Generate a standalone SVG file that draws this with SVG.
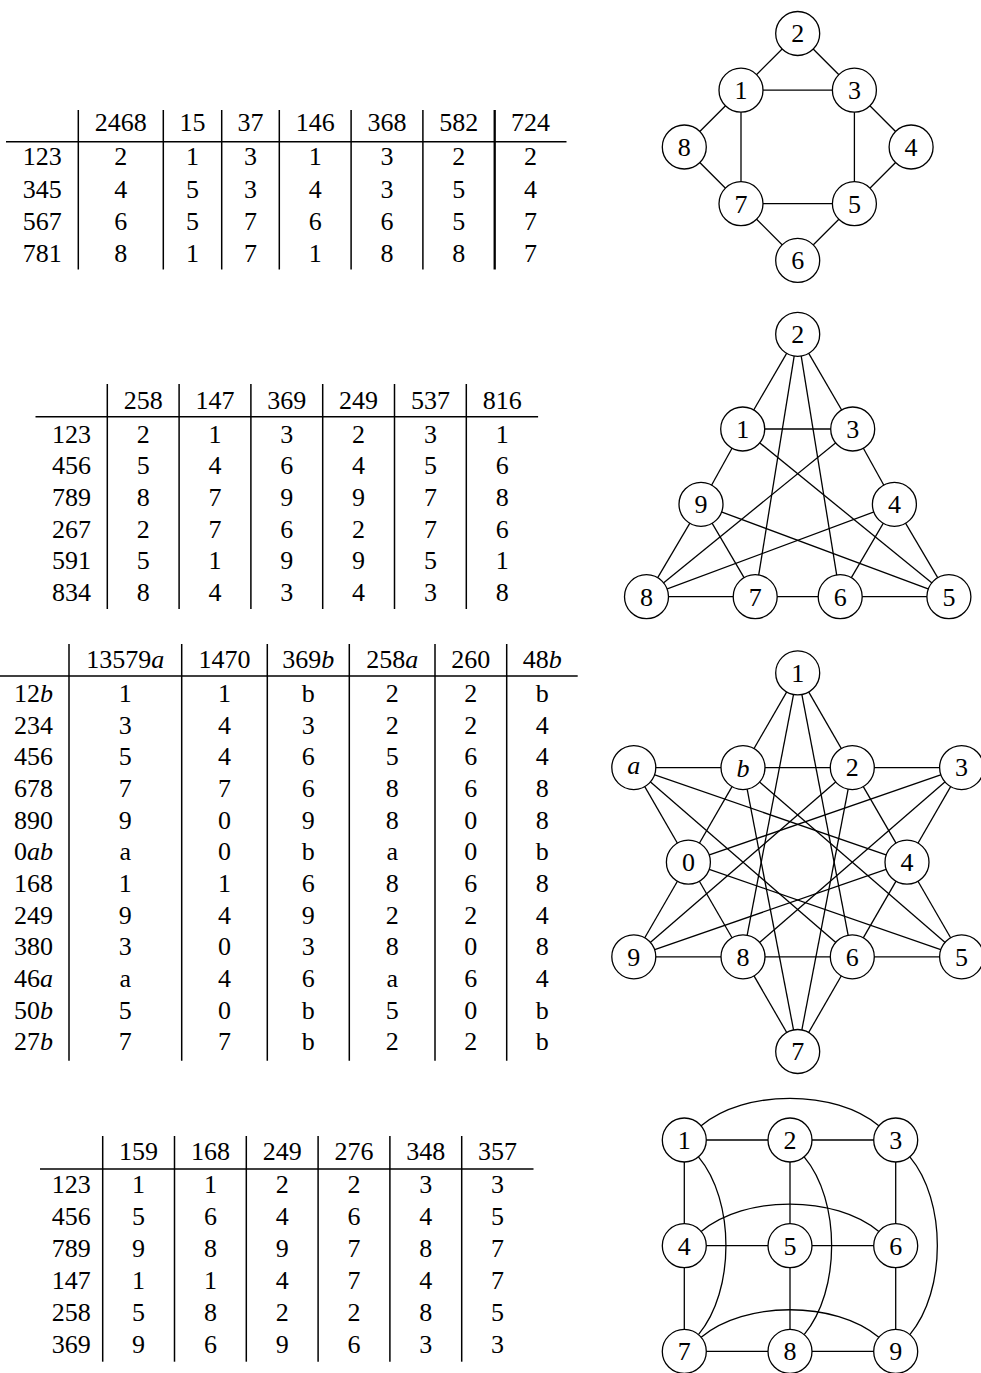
<svg xmlns="http://www.w3.org/2000/svg" width="981" height="1373" viewBox="0 0 981 1373">
<style>
.t{font-family:'Liberation Serif',serif;font-size:26px;fill:#000;text-anchor:middle}
.n{font-family:'Liberation Serif',serif;font-size:26px;fill:#000;text-anchor:middle}
.i{font-style:italic}
.v{stroke:#000;stroke-width:1.5}
.vb{stroke:#000;stroke-width:2.3}
.h{stroke:#000;stroke-width:1.4}
.e{stroke:#000;stroke-width:1.3;fill:none}
.c{stroke:#000;stroke-width:1.3;fill:#fff}
</style>
<rect width="981" height="1373" fill="#fff"/>

<!-- TABLE 1 -->
<g id="table1">
<line class="v" x1="78.3" y1="110" x2="78.3" y2="269.5"/>
<line class="v" x1="163.3" y1="110" x2="163.3" y2="269.5"/>
<line class="v" x1="221.7" y1="110" x2="221.7" y2="269.5"/>
<line class="v" x1="279.3" y1="110" x2="279.3" y2="269.5"/>
<line class="v" x1="351.1" y1="110" x2="351.1" y2="269.5"/>
<line class="v" x1="422.9" y1="110" x2="422.9" y2="269.5"/>
<line class="vb" x1="494.7" y1="110" x2="494.7" y2="269.5"/>
<line class="h" x1="6" y1="141.7" x2="566.5" y2="141.7"/>
<text class="t" y="131.4"><tspan x="120.8">2468</tspan><tspan x="192.5">15</tspan><tspan x="250.5">37</tspan><tspan x="315.2">146</tspan><tspan x="387">368</tspan><tspan x="458.8">582</tspan><tspan x="530.6">724</tspan></text>
<text class="t" y="165.4"><tspan x="42.2">123</tspan><tspan x="120.8">2</tspan><tspan x="192.5">1</tspan><tspan x="250.5">3</tspan><tspan x="315.2">1</tspan><tspan x="387">3</tspan><tspan x="458.8">2</tspan><tspan x="530.6">2</tspan></text>
<text class="t" y="197.6"><tspan x="42.2">345</tspan><tspan x="120.8">4</tspan><tspan x="192.5">5</tspan><tspan x="250.5">3</tspan><tspan x="315.2">4</tspan><tspan x="387">3</tspan><tspan x="458.8">5</tspan><tspan x="530.6">4</tspan></text>
<text class="t" y="229.8"><tspan x="42.2">567</tspan><tspan x="120.8">6</tspan><tspan x="192.5">5</tspan><tspan x="250.5">7</tspan><tspan x="315.2">6</tspan><tspan x="387">6</tspan><tspan x="458.8">5</tspan><tspan x="530.6">7</tspan></text>
<text class="t" y="262"><tspan x="42.2">781</tspan><tspan x="120.8">8</tspan><tspan x="192.5">1</tspan><tspan x="250.5">7</tspan><tspan x="315.2">1</tspan><tspan x="387">8</tspan><tspan x="458.8">8</tspan><tspan x="530.6">7</tspan></text>
</g>

<!-- TABLE 2 -->
<g id="table2">
<line class="v" x1="107.3" y1="384" x2="107.3" y2="609"/>
<line class="v" x1="179.1" y1="384" x2="179.1" y2="609"/>
<line class="v" x1="250.9" y1="384" x2="250.9" y2="609"/>
<line class="v" x1="322.7" y1="384" x2="322.7" y2="609"/>
<line class="v" x1="394.5" y1="384" x2="394.5" y2="609"/>
<line class="v" x1="466.3" y1="384" x2="466.3" y2="609"/>
<line class="h" x1="35.5" y1="416.7" x2="538.1" y2="416.7"/>
<text class="t" y="408.7"><tspan x="143.2">258</tspan><tspan x="215">147</tspan><tspan x="286.8">369</tspan><tspan x="358.6">249</tspan><tspan x="430.4">537</tspan><tspan x="502.2">816</tspan></text>
<text class="t" y="442.7"><tspan x="71.4">123</tspan><tspan x="143.2">2</tspan><tspan x="215">1</tspan><tspan x="286.8">3</tspan><tspan x="358.6">2</tspan><tspan x="430.4">3</tspan><tspan x="502.2">1</tspan></text>
<text class="t" y="474.3"><tspan x="71.4">456</tspan><tspan x="143.2">5</tspan><tspan x="215">4</tspan><tspan x="286.8">6</tspan><tspan x="358.6">4</tspan><tspan x="430.4">5</tspan><tspan x="502.2">6</tspan></text>
<text class="t" y="505.9"><tspan x="71.4">789</tspan><tspan x="143.2">8</tspan><tspan x="215">7</tspan><tspan x="286.8">9</tspan><tspan x="358.6">9</tspan><tspan x="430.4">7</tspan><tspan x="502.2">8</tspan></text>
<text class="t" y="537.5"><tspan x="71.4">267</tspan><tspan x="143.2">2</tspan><tspan x="215">7</tspan><tspan x="286.8">6</tspan><tspan x="358.6">2</tspan><tspan x="430.4">7</tspan><tspan x="502.2">6</tspan></text>
<text class="t" y="569.1"><tspan x="71.4">591</tspan><tspan x="143.2">5</tspan><tspan x="215">1</tspan><tspan x="286.8">9</tspan><tspan x="358.6">9</tspan><tspan x="430.4">5</tspan><tspan x="502.2">1</tspan></text>
<text class="t" y="600.7"><tspan x="71.4">834</tspan><tspan x="143.2">8</tspan><tspan x="215">4</tspan><tspan x="286.8">3</tspan><tspan x="358.6">4</tspan><tspan x="430.4">3</tspan><tspan x="502.2">8</tspan></text>
</g>

<!-- TABLE 3 -->
<g id="table3">
<line class="v" x1="69" y1="644" x2="69" y2="1060.7"/>
<line class="v" x1="181.7" y1="644" x2="181.7" y2="1060.7"/>
<line class="v" x1="267.3" y1="644" x2="267.3" y2="1060.7"/>
<line class="v" x1="349.3" y1="644" x2="349.3" y2="1060.7"/>
<line class="v" x1="435" y1="644" x2="435" y2="1060.7"/>
<line class="v" x1="506.7" y1="644" x2="506.7" y2="1060.7"/>
<line class="h" x1="0" y1="676" x2="577.7" y2="676"/>
<text class="t" y="668"><tspan x="125.3">13579<tspan class="i">a</tspan></tspan><tspan x="224.5">1470</tspan><tspan x="308.3">369<tspan class="i">b</tspan></tspan><tspan x="392.2">258<tspan class="i">a</tspan></tspan><tspan x="470.8">260</tspan><tspan x="542.2">48<tspan class="i">b</tspan></tspan></text>
<text class="t" y="702"><tspan x="33.5">12<tspan class="i">b</tspan></tspan><tspan x="125.3">1</tspan><tspan x="224.5">1</tspan><tspan x="308.3">b</tspan><tspan x="392.2">2</tspan><tspan x="470.8">2</tspan><tspan x="542.2">b</tspan></text>
<text class="t" y="733.7"><tspan x="33.5">234</tspan><tspan x="125.3">3</tspan><tspan x="224.5">4</tspan><tspan x="308.3">3</tspan><tspan x="392.2">2</tspan><tspan x="470.8">2</tspan><tspan x="542.2">4</tspan></text>
<text class="t" y="765.3"><tspan x="33.5">456</tspan><tspan x="125.3">5</tspan><tspan x="224.5">4</tspan><tspan x="308.3">6</tspan><tspan x="392.2">5</tspan><tspan x="470.8">6</tspan><tspan x="542.2">4</tspan></text>
<text class="t" y="797"><tspan x="33.5">678</tspan><tspan x="125.3">7</tspan><tspan x="224.5">7</tspan><tspan x="308.3">6</tspan><tspan x="392.2">8</tspan><tspan x="470.8">6</tspan><tspan x="542.2">8</tspan></text>
<text class="t" y="828.7"><tspan x="33.5">890</tspan><tspan x="125.3">9</tspan><tspan x="224.5">0</tspan><tspan x="308.3">9</tspan><tspan x="392.2">8</tspan><tspan x="470.8">0</tspan><tspan x="542.2">8</tspan></text>
<text class="t" y="860.4"><tspan x="33.5">0<tspan class="i">ab</tspan></tspan><tspan x="125.3">a</tspan><tspan x="224.5">0</tspan><tspan x="308.3">b</tspan><tspan x="392.2">a</tspan><tspan x="470.8">0</tspan><tspan x="542.2">b</tspan></text>
<text class="t" y="892"><tspan x="33.5">168</tspan><tspan x="125.3">1</tspan><tspan x="224.5">1</tspan><tspan x="308.3">6</tspan><tspan x="392.2">8</tspan><tspan x="470.8">6</tspan><tspan x="542.2">8</tspan></text>
<text class="t" y="923.7"><tspan x="33.5">249</tspan><tspan x="125.3">9</tspan><tspan x="224.5">4</tspan><tspan x="308.3">9</tspan><tspan x="392.2">2</tspan><tspan x="470.8">2</tspan><tspan x="542.2">4</tspan></text>
<text class="t" y="955.4"><tspan x="33.5">380</tspan><tspan x="125.3">3</tspan><tspan x="224.5">0</tspan><tspan x="308.3">3</tspan><tspan x="392.2">8</tspan><tspan x="470.8">0</tspan><tspan x="542.2">8</tspan></text>
<text class="t" y="987"><tspan x="33.5">46<tspan class="i">a</tspan></tspan><tspan x="125.3">a</tspan><tspan x="224.5">4</tspan><tspan x="308.3">6</tspan><tspan x="392.2">a</tspan><tspan x="470.8">6</tspan><tspan x="542.2">4</tspan></text>
<text class="t" y="1018.7"><tspan x="33.5">50<tspan class="i">b</tspan></tspan><tspan x="125.3">5</tspan><tspan x="224.5">0</tspan><tspan x="308.3">b</tspan><tspan x="392.2">5</tspan><tspan x="470.8">0</tspan><tspan x="542.2">b</tspan></text>
<text class="t" y="1050.4"><tspan x="33.5">27<tspan class="i">b</tspan></tspan><tspan x="125.3">7</tspan><tspan x="224.5">7</tspan><tspan x="308.3">b</tspan><tspan x="392.2">2</tspan><tspan x="470.8">2</tspan><tspan x="542.2">b</tspan></text>
</g>

<!-- TABLE 4 -->
<g id="table4">
<line class="v" x1="102.7" y1="1136" x2="102.7" y2="1361.7"/>
<line class="v" x1="174.5" y1="1136" x2="174.5" y2="1361.7"/>
<line class="v" x1="246.3" y1="1136" x2="246.3" y2="1361.7"/>
<line class="v" x1="318.1" y1="1136" x2="318.1" y2="1361.7"/>
<line class="v" x1="389.9" y1="1136" x2="389.9" y2="1361.7"/>
<line class="v" x1="461.7" y1="1136" x2="461.7" y2="1361.7"/>
<line class="h" x1="40" y1="1169" x2="533.5" y2="1169"/>
<text class="t" y="1160.4"><tspan x="138.6">159</tspan><tspan x="210.4">168</tspan><tspan x="282.2">249</tspan><tspan x="354">276</tspan><tspan x="425.8">348</tspan><tspan x="497.6">357</tspan></text>
<text class="t" y="1193"><tspan x="71.3">123</tspan><tspan x="138.6">1</tspan><tspan x="210.4">1</tspan><tspan x="282.2">2</tspan><tspan x="354">2</tspan><tspan x="425.8">3</tspan><tspan x="497.6">3</tspan></text>
<text class="t" y="1225"><tspan x="71.3">456</tspan><tspan x="138.6">5</tspan><tspan x="210.4">6</tspan><tspan x="282.2">4</tspan><tspan x="354">6</tspan><tspan x="425.8">4</tspan><tspan x="497.6">5</tspan></text>
<text class="t" y="1257"><tspan x="71.3">789</tspan><tspan x="138.6">9</tspan><tspan x="210.4">8</tspan><tspan x="282.2">9</tspan><tspan x="354">7</tspan><tspan x="425.8">8</tspan><tspan x="497.6">7</tspan></text>
<text class="t" y="1288.8"><tspan x="71.3">147</tspan><tspan x="138.6">1</tspan><tspan x="210.4">1</tspan><tspan x="282.2">4</tspan><tspan x="354">7</tspan><tspan x="425.8">4</tspan><tspan x="497.6">7</tspan></text>
<text class="t" y="1320.8"><tspan x="71.3">258</tspan><tspan x="138.6">5</tspan><tspan x="210.4">8</tspan><tspan x="282.2">2</tspan><tspan x="354">2</tspan><tspan x="425.8">8</tspan><tspan x="497.6">5</tspan></text>
<text class="t" y="1352.8"><tspan x="71.3">369</tspan><tspan x="138.6">9</tspan><tspan x="210.4">6</tspan><tspan x="282.2">9</tspan><tspan x="354">6</tspan><tspan x="425.8">3</tspan><tspan x="497.6">3</tspan></text>
</g>

<!-- GRAPH 1 -->
<g id="g1-edges">
<line class="e" x1="797.7" y1="33.5" x2="741" y2="90.2"/>
<line class="e" x1="797.7" y1="33.5" x2="854.4" y2="90.2"/>
<line class="e" x1="741" y1="90.2" x2="854.4" y2="90.2"/>
<line class="e" x1="741" y1="90.2" x2="684.3" y2="147"/>
<line class="e" x1="741" y1="90.2" x2="741" y2="203.7"/>
<line class="e" x1="854.4" y1="90.2" x2="911.1" y2="147"/>
<line class="e" x1="854.4" y1="90.2" x2="854.4" y2="203.7"/>
<line class="e" x1="684.3" y1="147" x2="741" y2="203.7"/>
<line class="e" x1="911.1" y1="147" x2="854.4" y2="203.7"/>
<line class="e" x1="741" y1="203.7" x2="854.4" y2="203.7"/>
<line class="e" x1="741" y1="203.7" x2="797.7" y2="260.4"/>
<line class="e" x1="854.4" y1="203.7" x2="797.7" y2="260.4"/>
</g>
<g id="g1-n2"><circle class="c" cx="797.7" cy="33.5" r="22"/><text class="n" x="797.7" y="42.3">2</text></g>
<g id="g1-n1"><circle class="c" cx="741" cy="90.2" r="22"/><text class="n" x="741" y="99">1</text></g>
<g id="g1-n3"><circle class="c" cx="854.4" cy="90.2" r="22"/><text class="n" x="854.4" y="99">3</text></g>
<g id="g1-n8"><circle class="c" cx="684.3" cy="147" r="22"/><text class="n" x="684.3" y="155.8">8</text></g>
<g id="g1-n4"><circle class="c" cx="911.1" cy="147" r="22"/><text class="n" x="911.1" y="155.8">4</text></g>
<g id="g1-n7"><circle class="c" cx="741" cy="203.7" r="22"/><text class="n" x="741" y="212.5">7</text></g>
<g id="g1-n5"><circle class="c" cx="854.4" cy="203.7" r="22"/><text class="n" x="854.4" y="212.5">5</text></g>
<g id="g1-n6"><circle class="c" cx="797.7" cy="260.4" r="22"/><text class="n" x="797.7" y="269.2">6</text></g>

<!-- GRAPH 2 -->
<g id="g2-edges">
<line class="e" x1="797.7" y1="334.3" x2="742.7" y2="429"/>
<line class="e" x1="797.7" y1="334.3" x2="852.7" y2="429"/>
<line class="e" x1="742.7" y1="429" x2="852.7" y2="429"/>
<line class="e" x1="894.4" y1="504.3" x2="948.9" y2="596.7"/>
<line class="e" x1="840.2" y1="596.7" x2="948.9" y2="596.7"/>
<line class="e" x1="894.4" y1="504.3" x2="840.2" y2="596.7"/>
<line class="e" x1="755.2" y1="596.7" x2="646.5" y2="596.7"/>
<line class="e" x1="646.5" y1="596.7" x2="701" y2="504.3"/>
<line class="e" x1="755.2" y1="596.7" x2="701" y2="504.3"/>
<line class="e" x1="797.7" y1="334.3" x2="840.2" y2="596.7"/>
<line class="e" x1="840.2" y1="596.7" x2="755.2" y2="596.7"/>
<line class="e" x1="797.7" y1="334.3" x2="755.2" y2="596.7"/>
<line class="e" x1="948.9" y1="596.7" x2="701" y2="504.3"/>
<line class="e" x1="701" y1="504.3" x2="742.7" y2="429"/>
<line class="e" x1="742.7" y1="429" x2="948.9" y2="596.7"/>
<line class="e" x1="646.5" y1="596.7" x2="852.7" y2="429"/>
<line class="e" x1="852.7" y1="429" x2="894.4" y2="504.3"/>
<line class="e" x1="894.4" y1="504.3" x2="646.5" y2="596.7"/>
</g>
<g id="g2-n2"><circle class="c" cx="797.7" cy="334.3" r="22"/><text class="n" x="797.7" y="343.1">2</text></g>
<g id="g2-n1"><circle class="c" cx="742.7" cy="429" r="22"/><text class="n" x="742.7" y="437.8">1</text></g>
<g id="g2-n3"><circle class="c" cx="852.7" cy="429" r="22"/><text class="n" x="852.7" y="437.8">3</text></g>
<g id="g2-n9"><circle class="c" cx="701" cy="504.3" r="22"/><text class="n" x="701" y="513.1">9</text></g>
<g id="g2-n4"><circle class="c" cx="894.4" cy="504.3" r="22"/><text class="n" x="894.4" y="513.1">4</text></g>
<g id="g2-n8"><circle class="c" cx="646.5" cy="596.7" r="22"/><text class="n" x="646.5" y="605.5">8</text></g>
<g id="g2-n7"><circle class="c" cx="755.2" cy="596.7" r="22"/><text class="n" x="755.2" y="605.5">7</text></g>
<g id="g2-n6"><circle class="c" cx="840.2" cy="596.7" r="22"/><text class="n" x="840.2" y="605.5">6</text></g>
<g id="g2-n5"><circle class="c" cx="948.9" cy="596.7" r="22"/><text class="n" x="948.9" y="605.5">5</text></g>

<!-- GRAPH 3 -->
<g id="g3-edges">
<line class="e" x1="797.7" y1="672.9" x2="852.3" y2="767.6"/>
<line class="e" x1="797.7" y1="672.9" x2="743" y2="767.6"/>
<line class="e" x1="852.3" y1="767.6" x2="743" y2="767.6"/>
<line class="e" x1="852.3" y1="767.6" x2="961.6" y2="767.6"/>
<line class="e" x1="961.6" y1="767.6" x2="907" y2="862.2"/>
<line class="e" x1="852.3" y1="767.6" x2="907" y2="862.2"/>
<line class="e" x1="907" y1="862.2" x2="961.6" y2="956.8"/>
<line class="e" x1="961.6" y1="956.8" x2="852.3" y2="956.8"/>
<line class="e" x1="907" y1="862.2" x2="852.3" y2="956.8"/>
<line class="e" x1="852.3" y1="956.8" x2="797.7" y2="1051.5"/>
<line class="e" x1="797.7" y1="1051.5" x2="743" y2="956.8"/>
<line class="e" x1="852.3" y1="956.8" x2="743" y2="956.8"/>
<line class="e" x1="743" y1="956.8" x2="633.8" y2="956.8"/>
<line class="e" x1="633.8" y1="956.8" x2="688.4" y2="862.2"/>
<line class="e" x1="688.4" y1="862.2" x2="743" y2="956.8"/>
<line class="e" x1="688.4" y1="862.2" x2="633.8" y2="767.6"/>
<line class="e" x1="633.8" y1="767.6" x2="743" y2="767.6"/>
<line class="e" x1="688.4" y1="862.2" x2="743" y2="767.6"/>
<line class="e" x1="797.7" y1="672.9" x2="852.3" y2="956.8"/>
<line class="e" x1="797.7" y1="672.9" x2="743" y2="956.8"/>
<line class="e" x1="852.3" y1="767.6" x2="633.8" y2="956.8"/>
<line class="e" x1="907" y1="862.2" x2="633.8" y2="956.8"/>
<line class="e" x1="961.6" y1="767.6" x2="743" y2="956.8"/>
<line class="e" x1="961.6" y1="767.6" x2="688.4" y2="862.2"/>
<line class="e" x1="907" y1="862.2" x2="633.8" y2="767.6"/>
<line class="e" x1="852.3" y1="956.8" x2="633.8" y2="767.6"/>
<line class="e" x1="961.6" y1="956.8" x2="688.4" y2="862.2"/>
<line class="e" x1="961.6" y1="956.8" x2="743" y2="767.6"/>
<line class="e" x1="852.3" y1="767.6" x2="797.7" y2="1051.5"/>
<line class="e" x1="797.7" y1="1051.5" x2="743" y2="767.6"/>
</g>
<g id="g3-n1"><circle class="c" cx="797.7" cy="672.9" r="22"/><text class="n" x="797.7" y="681.7">1</text></g>
<g id="g3-na"><circle class="c" cx="633.8" cy="767.6" r="22"/><text class="n i" x="633.8" y="773.6">a</text></g>
<g id="g3-nb"><circle class="c" cx="743" cy="767.6" r="22"/><text class="n i" x="743" y="776.6">b</text></g>
<g id="g3-n2"><circle class="c" cx="852.3" cy="767.6" r="22"/><text class="n" x="852.3" y="776.4">2</text></g>
<g id="g3-n3"><circle class="c" cx="961.6" cy="767.6" r="22"/><text class="n" x="961.6" y="776.4">3</text></g>
<g id="g3-n0"><circle class="c" cx="688.4" cy="862.2" r="22"/><text class="n" x="688.4" y="871">0</text></g>
<g id="g3-n4"><circle class="c" cx="907" cy="862.2" r="22"/><text class="n" x="907" y="871">4</text></g>
<g id="g3-n9"><circle class="c" cx="633.8" cy="956.8" r="22"/><text class="n" x="633.8" y="965.6">9</text></g>
<g id="g3-n8"><circle class="c" cx="743" cy="956.8" r="22"/><text class="n" x="743" y="965.6">8</text></g>
<g id="g3-n6"><circle class="c" cx="852.3" cy="956.8" r="22"/><text class="n" x="852.3" y="965.6">6</text></g>
<g id="g3-n5"><circle class="c" cx="961.6" cy="956.8" r="22"/><text class="n" x="961.6" y="965.6">5</text></g>
<g id="g3-n7"><circle class="c" cx="797.7" cy="1051.5" r="22"/><text class="n" x="797.7" y="1060.3">7</text></g>

<!-- GRAPH 4 -->
<g id="g4-edges">
<line class="e" x1="684.3" y1="1140" x2="790" y2="1140"/>
<line class="e" x1="790" y1="1140" x2="895.7" y2="1140"/>
<line class="e" x1="684.3" y1="1245.7" x2="790" y2="1245.7"/>
<line class="e" x1="790" y1="1245.7" x2="895.7" y2="1245.7"/>
<line class="e" x1="684.3" y1="1351.4" x2="790" y2="1351.4"/>
<line class="e" x1="790" y1="1351.4" x2="895.7" y2="1351.4"/>
<line class="e" x1="684.3" y1="1140" x2="684.3" y2="1245.7"/>
<line class="e" x1="684.3" y1="1245.7" x2="684.3" y2="1351.4"/>
<line class="e" x1="790" y1="1140" x2="790" y2="1245.7"/>
<line class="e" x1="790" y1="1245.7" x2="790" y2="1351.4"/>
<line class="e" x1="895.7" y1="1140" x2="895.7" y2="1245.7"/>
<line class="e" x1="895.7" y1="1245.7" x2="895.7" y2="1351.4"/>
<path class="e" d="M701.15,1125.86 C744.8,1089.2 835.2,1089.2 878.85,1125.86"/>
<path class="e" d="M701.15,1231.56 C744.8,1194.9 835.2,1194.9 878.85,1231.56"/>
<path class="e" d="M701.15,1337.26 C744.8,1300.6 835.2,1300.6 878.85,1337.26"/>
<path class="e" d="M698.44,1156.85 C735.1,1200.5 735.1,1290.9 698.44,1334.55"/>
<path class="e" d="M804.14,1156.85 C840.8,1200.5 840.8,1290.9 804.14,1334.55"/>
<path class="e" d="M909.84,1156.85 C946.5,1200.5 946.5,1290.9 909.84,1334.55"/>
</g>
<g id="g4-n1"><circle class="c" cx="684.3" cy="1140" r="22"/><text class="n" x="684.3" y="1148.8">1</text></g>
<g id="g4-n2"><circle class="c" cx="790" cy="1140" r="22"/><text class="n" x="790" y="1148.8">2</text></g>
<g id="g4-n3"><circle class="c" cx="895.7" cy="1140" r="22"/><text class="n" x="895.7" y="1148.8">3</text></g>
<g id="g4-n4"><circle class="c" cx="684.3" cy="1245.7" r="22"/><text class="n" x="684.3" y="1254.5">4</text></g>
<g id="g4-n5"><circle class="c" cx="790" cy="1245.7" r="22"/><text class="n" x="790" y="1254.5">5</text></g>
<g id="g4-n6"><circle class="c" cx="895.7" cy="1245.7" r="22"/><text class="n" x="895.7" y="1254.5">6</text></g>
<g id="g4-n7"><circle class="c" cx="684.3" cy="1351.4" r="22"/><text class="n" x="684.3" y="1360.2">7</text></g>
<g id="g4-n8"><circle class="c" cx="790" cy="1351.4" r="22"/><text class="n" x="790" y="1360.2">8</text></g>
<g id="g4-n9"><circle class="c" cx="895.7" cy="1351.4" r="22"/><text class="n" x="895.7" y="1360.2">9</text></g>
</svg>
